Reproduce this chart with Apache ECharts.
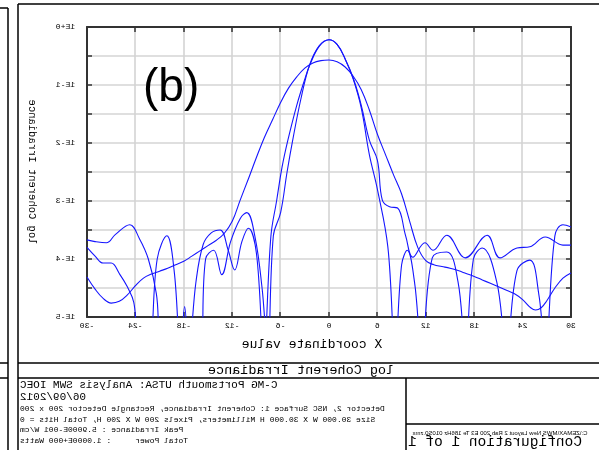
<!DOCTYPE html>
<html>
<head>
<meta charset="utf-8">
<script src="https://cdn.jsdelivr.net/npm/echarts@6/dist/echarts.min.js"></script>
<style>
  html, body { margin: 0; padding: 0; background: #fff; }
  #page { position: relative; width: 599px; height: 450px; overflow: hidden; }
  /* the whole layout is shown as a mirror image */
  #chart { position: absolute; left: 0; top: 0; width: 599px; height: 450px; transform: scaleX(-1); }
  #panel { position: absolute; left: 143px; top: 56px; font: 46px "Liberation Sans", Arial, sans-serif; color: #000; line-height: 58px; }
</style>
</head>
<body>
<div id="page">
  <div id="chart"></div>
  <div id="panel">(b)</div>
</div>
<script>
// axis ticks
const xTicks = [-30, -24, -18, -12, -6, 0, 6, 12, 18, 24, 30];
const yTickLabels = { '0': '1E+0', '-1': '1E-1', '-2': '1E-2', '-3': '1E-3', '-4': '1E-4', '-5': '1E-5' };

// [x, log10 irradiance]; values under -5 fall off the floor
const wideBeam = [
  [-30, -4.31], [-29, -4.52], [-28, -4.68], [-27, -4.76], [-26, -4.73], [-25, -4.62],
  [-24, -4.46], [-23, -4.33], [-22, -4.26], [-21, -4.21], [-20, -4.16], [-19, -4.1],
  [-18, -4.04], [-17, -3.95], [-16, -3.86], [-15, -3.77], [-14, -3.68], [-13, -3.56],
  [-12, -3.35], [-11, -2.98], [-10, -2.62], [-9, -2.25], [-8, -1.9], [-7, -1.6],
  [-6, -1.3], [-5, -1.05], [-4, -0.86], [-3, -0.71], [-2, -0.62], [-1, -0.58],
  [0, -0.57], [1, -0.6], [2, -0.69], [3, -0.85], [4, -1.08], [5, -1.43], [6, -1.85],
  [7, -2.2], [8, -2.55], [9, -2.88], [10, -3.35], [11, -3.8], [12, -4.03], [13, -4.1],
  [14, -4.13], [15, -4.16], [16, -4.2], [17, -4.25], [18, -4.3], [19, -4.36],
  [20, -4.42], [21, -4.48], [22, -4.54], [23, -4.6], [24, -4.7], [25, -4.84],
  [25.6, -4.88], [26.3, -4.84], [27, -4.72], [28, -4.5], [29, -4.33], [30, -4.24]
];
const narrowBeamA = [
  [-30, -3.8], [-29, -3.95], [-28, -4.07], [-27, -4.07], [-26, -4.25], [-25, -4.48],
  [-24.2, -4.75], [-23.4, -5.6], [-22.4, -5.6], [-21.3, -4.0], [-20.1, -3.6],
  [-19.2, -4.2], [-18.4, -5.6], [-17.9, -4.82], [-17.4, -5.6], [-16.5, -4.4],
  [-15.6, -3.75], [-14.6, -3.55], [-13.5, -3.5], [-12.5, -3.85], [-11.7, -4.19],
  [-10.8, -3.7], [-10, -3.47], [-9, -3.9], [-8.1, -5.6], [-7.2, -3.6], [-6.5, -3.0],
  [-5.8, -2.4], [-5.1, -1.95], [-4, -1.35], [-3, -0.9], [-2.4, -0.66], [-1.2, -0.33],
  [0, -0.22], [1, -0.3], [2, -0.55], [3, -0.9],
  [4, -1.4], [5, -2.2], [6, -2.8], [7.3, -3.8], [8.2, -5.6], [9, -4.1], [9.7, -3.85],
  [10.6, -4.4], [11.5, -5.6], [12.8, -3.98], [14.6, -3.88], [16, -4.4], [16.9, -5.6],
  [17.9, -4.0], [19, -3.81], [20.8, -4.4], [22, -5.6], [23.3, -4.2], [24.9, -4.02],
  [26, -4.6], [26.8, -5.6], [28, -3.6], [29, -3.41], [30, -3.45]
];
const narrowBeamB = [
  [-30, -3.67], [-29, -3.7], [-27.6, -3.72], [-26.5, -3.58], [-24.7, -3.41],
  [-23.5, -3.65], [-22.4, -4.0], [-21.4, -4.6], [-20.6, -5.6], [-16.1, -5.6],
  [-15.3, -4.0], [-14.3, -3.85], [-13.3, -4.27], [-12.2, -3.7], [-11, -3.3],
  [-10.2, -3.2], [-9.2, -3.6], [-8.3, -4.5], [-7.6, -5.6], [-6.9, -3.6], [-6, -3.2],
  [-5.2, -2.5], [-4.5, -1.95], [-3.5, -1.25], [-2.4, -0.65], [-1.2, -0.32], [0, -0.22],
  [1, -0.3], [2, -0.55],
  [3, -0.88], [4, -1.35], [5, -1.95], [6, -2.3], [6.6, -2.98], [7.5, -3.1], [8.5, -3.12],
  [9.5, -3.6], [10.4, -3.97], [11.9, -3.72], [12.9, -3.85], [14.6, -3.59], [16.9, -3.98],
  [19.6, -3.59], [21.2, -3.98], [23.3, -3.81], [24.9, -3.79], [26.8, -3.62],
  [29, -3.76], [30, -3.76]
];

// texts of the layout
const xTitle = 'X coordinate value';
const yTitle = 'log Coherent Irradiance';
const captionTitle = 'log Coherent Irradiance';
const infoLines = [
  'C-MG Portsmouth UTSA: Analysis SWM IOEC',
  '06/09/2012',
  'Detector 2, NSC Surface 1: Coherent Irradiance, Rectangle Detector 200 x 200',
  'Size 30.000 W X 30.000 H Millimeters, Pixels 200 W X 200 H, Total Hits = 0',
  'Peak Irradiance : 5.9000E-001 W/cm',
  'Total Power     : 1.0000E+000 Watts'
];
const fileLine = 'C:\\ZEMAX\\MWS New Layout 2 Rab 200 E3 Te 186Hz 010S0.zmx';
const configLine = 'Configuration 1 of 1';

const W = 599;
const fx = (x) => W - x; // picture x -> canvas x (the canvas is flipped)

const chartDom = document.getElementById('chart');
const myChart = echarts.init(chartDom, null, { renderer: 'canvas' });

const lineSeries = (name, data) => ({
  name: name,
  type: 'line',
  data: data,
  showSymbol: false,
  smooth: 0.4,
  clip: true,
  lineStyle: { color: '#1515ff', width: 1.1 },
  xAxisIndex: 0,
  yAxisIndex: 0
});

const gridLine = { show: true, lineStyle: { color: '#d4d4d4', width: 1.6 } };
const axisLine = { show: true, onZero: false, lineStyle: { color: '#333', width: 2 } };
const tick = { show: true, inside: true, length: 5, lineStyle: { color: '#333', width: 1.5 } };
const tickFont = { fontFamily: 'Liberation Mono', fontSize: 8, color: '#000' };

function rule(x1, y1, x2, y2, w) {
  return { type: 'line', silent: true, z: 5,
    shape: { x1: fx(x1), y1: y1, x2: fx(x2), y2: y2 },
    style: { stroke: '#000', lineWidth: w || 1.5 } };
}
function label(text, x, y, font, align, extra) {
  return Object.assign({
    type: 'text', x: fx(x), y: y, silent: true, z: 10,
    style: { text: text, font: font, fill: '#000', textAlign: align || 'center', textVerticalAlign: 'middle' }
  }, extra || {});
}

const graphics = [
  // frame of the layout
  rule(8, 8, 8, 450), rule(0, 8, 8, 8), rule(0, 363, 8, 363), rule(0, 378, 8, 378),
  rule(18, 4, 18, 450), rule(18, 4, 599, 4),
  rule(18, 363, 599, 363), rule(18, 378, 599, 378),
  rule(406, 378, 406, 450), rule(406, 424, 599, 424),
  // axis titles
  label(xTitle, 312, 345, '13px "Liberation Mono"'),
  label(yTitle, 32, 172, '10.5px "Liberation Mono"', 'center', { rotation: Math.PI / 2 }),
  // caption block
  label(captionTitle, 301, 370.5, '13.5px "Liberation Mono"'),
  label(fileLine, 500, 433, '6px "Liberation Sans"'),
  label(configLine, 495, 442, '14.5px "Liberation Mono"')
];
const infoFonts = ['11px "Liberation Mono"', '11px "Liberation Mono"',
  '8px "Liberation Mono"', '8px "Liberation Mono"', '8px "Liberation Mono"', '8px "Liberation Mono"'];
const infoY = [385, 397, 409, 420, 430, 441];
infoLines.forEach((t, i) => {
  // left aligned in the picture -> right aligned on the flipped canvas
  graphics.push(label(t, 20, infoY[i], infoFonts[i], 'right'));
});

const option = {
  animation: false,
  grid: { left: 28, top: 27, right: 87, bottom: 133 },
  xAxis: [
    { type: 'value', min: -30, max: 30, interval: 6, inverse: true, position: 'bottom',
      axisLine: axisLine, axisTick: tick, splitLine: gridLine,
      axisLabel: Object.assign({ margin: 5, formatter: (v) => String(v) }, tickFont) },
    { type: 'value', min: -30, max: 30, interval: 6, inverse: true, position: 'top',
      axisLine: axisLine, axisTick: tick, axisLabel: { show: false }, splitLine: { show: false } }
  ],
  yAxis: [
    { type: 'value', min: -5, max: 0, interval: 0.5, position: 'right',
      axisLine: axisLine, axisTick: tick, splitLine: gridLine,
      axisLabel: Object.assign({ margin: 12, formatter: (v) => yTickLabels[String(v)] || '' }, tickFont) },
    { type: 'value', min: -5, max: 0, interval: 0.5, position: 'left',
      axisLine: axisLine, axisTick: tick, axisLabel: { show: false }, splitLine: { show: false } }
  ],
  series: [
    lineSeries('wide', wideBeam),
    lineSeries('narrow A', narrowBeamA),
    lineSeries('narrow B', narrowBeamB)
  ],
  graphic: { elements: graphics }
};

myChart.setOption(option);
</script>
</body>
</html>
